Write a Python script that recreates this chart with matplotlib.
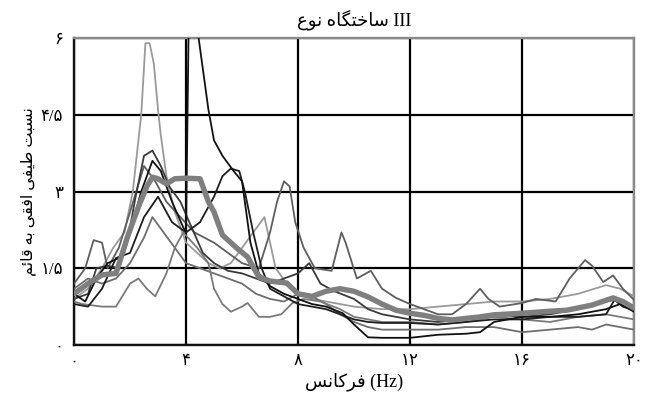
import matplotlib
matplotlib.use("Agg")
import matplotlib.pyplot as plt

# ---------------- data ----------------
x_ticks = [0, 4, 8, 12, 16, 20]
x_tick_labels = ["۰", "۴", "۸", "۱۲", "۱۶", "۲۰"]
y_ticks = [0, 1.5, 3, 4.5, 6]
y_tick_labels = ["۰", "۱/۵", "۳", "۴/۵", "۶"]

title_fa = "ساختگاه نوع"
title_latin = "III"
xlabel_fa = "فرکانس"
xlabel_latin = "(Hz)"
ylabel_fa = "نسبت طیفی افقی به قائم"

f_black = [0, 0.4, 0.8, 1.2, 1.6, 2.0, 2.4, 2.8, 3.1, 3.5, 3.9, 4.0, 4.1, 4.25, 4.4, 4.6, 4.8, 5.0, 5.3,
           5.7, 6.0, 6.3, 6.6, 7.0, 7.5, 8.0, 8.5, 9.0, 9.6, 10.0, 10.5, 11.0, 11.5, 12.0, 13.0, 14.0, 14.5,
           15.0, 16.0, 17.0, 18.0, 19.0, 19.5, 20.0]
v_black = [1.0, 0.85, 1.3, 1.6, 1.7, 2.2, 3.0, 3.6, 3.4, 2.8, 2.3, 2.2, 6.5, 6.5, 6.2, 5.4, 4.6, 4.0, 3.7,
           3.4, 3.2, 2.0, 1.4, 1.15, 1.0, 0.9, 0.8, 0.75, 0.62, 0.4, 0.15, 0.14, 0.14, 0.14, 0.2, 0.22, 0.25,
           0.45, 0.55, 0.55, 0.6, 0.7, 0.8, 0.65]

f_black2 = [0, 0.5, 1.0, 1.5, 2.0, 2.5, 3.0, 3.5, 4.0, 4.5, 5.0, 5.3, 5.6, 5.9, 6.1, 6.4, 6.7, 7.0, 7.5,
            8.0, 8.5, 9.0, 9.5, 10.0, 10.5, 11.0, 12.0, 13.0, 14.0, 15.0, 16.0, 17.0, 18.0, 19.0, 19.3,
            19.6, 20.0]
v_black2 = [0.8, 0.75, 1.1, 1.7, 1.8, 2.5, 2.9, 2.4, 2.2, 2.4, 2.9, 3.3, 3.45, 3.4, 3.0, 2.2, 1.5, 1.1,
            0.95, 0.8, 0.75, 0.7, 0.6, 0.5, 0.45, 0.43, 0.43, 0.4, 0.45, 0.5, 0.5, 0.55, 0.55, 0.6, 0.88,
            0.75, 0.68]

f_light = [0, 0.5, 1.0, 1.4, 1.8, 2.1, 2.4, 2.55, 2.7, 2.85, 3.0, 3.1, 3.3, 3.6, 4.0, 4.4, 4.8, 5.2, 5.6,
           6.0, 6.4, 6.8, 7.2, 7.6, 8.0, 8.5, 9.0, 9.5, 10.0, 11.0, 12.0, 13.0, 14.0, 15.0, 16.0, 17.0,
           18.0, 19.0, 19.5, 20.0]
v_light = [0.9, 1.1, 1.5, 1.9, 2.2, 3.0, 4.5, 5.9, 5.9, 5.5, 4.6, 4.1, 3.3, 2.6, 2.0, 1.8, 1.6, 1.5, 1.6,
           1.9, 2.2, 2.5, 1.5, 1.2, 1.0, 0.9, 0.85, 0.8, 0.75, 0.7, 0.7, 0.75, 0.8, 0.85, 0.85, 0.9,
           1.0, 1.17, 1.1, 0.95]

f_gray1 = [0, 0.4, 0.7, 1.0, 1.2, 1.6, 2.0, 2.5, 2.9, 3.3, 3.8, 4.3, 5.0, 5.5, 6.0, 6.6, 7.0, 7.25, 7.5,
           7.7, 7.9, 8.2, 8.6, 9.2, 9.55, 9.7, 10.1, 10.6, 11.0, 11.5, 12.0, 12.5, 13.0, 13.5, 14.0, 14.5,
           14.8, 15.2, 16.0, 16.5, 17.2, 17.7, 18.25, 18.5, 18.9, 19.25, 19.6, 20.0]
v_gray1 = [1.2, 1.5, 2.05, 2.0, 1.5, 1.9, 2.6, 3.5, 3.2, 2.8, 2.5, 2.2, 2.0, 1.8, 1.6, 1.5, 2.2, 2.8, 3.2,
           3.1, 2.4, 1.9, 1.5, 1.45, 2.2, 2.0, 1.3, 1.45, 1.1, 0.92, 0.8, 0.7, 0.6, 0.6, 0.8, 1.1,
           0.9, 0.75, 0.82, 0.9, 0.85, 1.3, 1.66, 1.55, 1.23, 1.36, 1.1, 0.88]

f_gray2 = [0, 0.3, 1.0, 1.5, 2.0, 2.3, 2.6, 2.9, 3.3, 3.6, 3.9, 4.4, 4.8, 5.0, 5.3, 5.6, 6.0, 6.2, 6.6,
           7.0, 7.4, 7.8, 8.2, 8.8, 9.5, 10.0, 10.5, 11.0, 12.0, 13.0, 14.0, 15.0, 16.0, 17.0, 18.0,
           19.0, 20.0]
v_gray2 = [0.85, 0.8, 0.75, 0.75, 1.2, 1.3, 1.1, 0.95, 1.4, 1.9, 2.2, 1.9, 1.6, 1.1, 0.8, 0.65, 0.75, 0.82,
           0.55, 0.55, 0.6, 0.82, 0.9, 0.85, 0.7, 0.55, 0.5, 0.45, 0.45, 0.4, 0.45, 0.55, 0.5, 0.45, 0.55,
           0.6, 0.5]

f_dark = [0, 0.5, 0.8, 1.2, 1.6, 1.9, 2.2, 2.5, 2.8, 3.1, 3.4, 3.8, 4.2, 4.6, 5.0, 5.5, 6.0, 6.5, 7.0,
          7.5, 8.0, 8.4, 8.8, 9.3, 10.0, 10.5, 11.0, 12.0, 13.0, 14.0, 15.0, 16.0, 17.0, 18.0, 19.0,
          19.5, 20.0]
v_dark = [0.9, 1.0, 1.5, 1.55, 1.5, 2.0, 2.9, 3.7, 3.8, 3.5, 3.1, 2.8, 2.3, 1.8, 1.6, 1.45, 1.4, 1.3, 1.2,
          1.3, 1.4, 1.6, 1.2, 1.05, 0.9, 0.7, 0.6, 0.5, 0.45, 0.5, 0.6, 0.55, 0.6, 0.7, 0.85, 0.9, 0.7]

f_gray3 = [0, 0.5, 1.0, 1.5, 2.0, 2.5, 2.8, 3.2, 3.6, 4.0, 4.5, 5.0, 5.5, 6.0, 6.5, 7.0, 7.5, 8.0, 8.5,
           9.0, 9.5, 10.0, 10.5, 11.0, 12.0, 13.0, 14.0, 15.0, 16.0, 17.0, 18.0, 18.5, 19.0, 19.5, 20.0]
v_gray3 = [1.1, 1.3, 1.2, 1.3, 1.6, 2.1, 2.5, 2.2, 1.9, 1.6, 1.5, 1.4, 1.3, 1.2, 1.0, 0.9, 0.85, 1.0, 0.95,
           0.8, 0.6, 0.45, 0.35, 0.3, 0.3, 0.3, 0.35, 0.35, 0.25, 0.3, 0.35, 0.3, 0.4, 0.35, 0.3]

f_mean = [0, 0.5, 1.0, 1.5, 1.9, 2.3, 2.6, 2.8, 3.0, 3.3, 3.6, 4.0, 4.5, 4.8, 5.0, 5.3, 5.8, 6.2, 6.6, 7.0,
          7.6, 8.0, 8.5, 9.0, 9.5, 10.0, 10.5, 11.0, 11.5, 12.0, 12.5, 13.0, 13.5, 14.0, 14.5, 15.0, 16.0,
          17.0, 17.6, 18.5, 19.25, 19.6, 20.0]
v_mean = [1.0, 1.2, 1.37, 1.4, 2.1, 2.7, 3.1, 3.28, 3.25, 3.15, 3.25, 3.26, 3.25, 2.8, 2.6, 2.15, 1.9, 1.72,
          1.33, 1.25, 1.21, 1.0, 0.95, 1.05, 1.1, 1.05, 0.94, 0.8, 0.68, 0.62, 0.58, 0.52, 0.49, 0.52, 0.55,
          0.59, 0.62, 0.66, 0.68, 0.78, 0.92, 0.85, 0.72]

# ---------------- minimal Persian shaping ----------------
FORMS = {
    "ا": ("\uFE8D", "\uFE8E", None, None), "د": ("\uFEA9", "\uFEAA", None, None),
    "ذ": ("\uFEAB", "\uFEAC", None, None), "ر": ("\uFEAD", "\uFEAE", None, None),
    "ز": ("\uFEAF", "\uFEB0", None, None), "و": ("\uFEED", "\uFEEE", None, None),
    "ب": ("\uFE8F", "\uFE90", "\uFE91", "\uFE92"), "ت": ("\uFE95", "\uFE96", "\uFE97", "\uFE98"),
    "خ": ("\uFEA5", "\uFEA6", "\uFEA7", "\uFEA8"), "س": ("\uFEB1", "\uFEB2", "\uFEB3", "\uFEB4"),
    "ط": ("\uFEC1", "\uFEC2", "\uFEC3", "\uFEC4"), "ع": ("\uFEC9", "\uFECA", "\uFECB", "\uFECC"),
    "ف": ("\uFED1", "\uFED2", "\uFED3", "\uFED4"), "ق": ("\uFED5", "\uFED6", "\uFED7", "\uFED8"),
    "ن": ("\uFEE5", "\uFEE6", "\uFEE7", "\uFEE8"), "ه": ("\uFEE9", "\uFEEA", "\uFEEB", "\uFEEC"),
    "م": ("\uFEE1", "\uFEE2", "\uFEE3", "\uFEE4"), "ئ": ("\uFE89", "\uFE8A", "\uFE8B", "\uFE8C"),
    "ی": ("\uFBFC", "\uFBFD", "\uFBFE", "\uFBFF"), "ک": ("\uFB8E", "\uFB8F", "\uFB90", "\uFB91"),
    "گ": ("\uFB92", "\uFB93", "\uFB94", "\uFB95"),
}


def rtl(text):
    out = []
    n = len(text)
    for i, ch in enumerate(text):
        if ch not in FORMS:
            out.append(ch)
            continue
        prev = text[i - 1] if i > 0 else ""
        nxt = text[i + 1] if i + 1 < n else ""
        joins_prev = prev in FORMS and FORMS[prev][2] is not None
        dual = FORMS[ch][2] is not None
        joins_next = dual and nxt in FORMS
        iso, fin, ini, med = FORMS[ch]
        if joins_prev and joins_next:
            out.append(med)
        elif joins_next:
            out.append(ini)
        elif joins_prev:
            out.append(fin)
        else:
            out.append(iso)
    return "".join(reversed(out))


FAM = ["Liberation Serif", "DejaVu Sans"]

# ---------------- figure ----------------
fig = plt.figure(figsize=(6.47, 4.01), dpi=100)
ax = fig.add_axes([0.1144, 0.1397, 0.8656, 0.7653])

thin = [
    (f_light, v_light, "#9a9a9a"),
    (f_gray3, v_gray3, "#6e6e6e"),
    (f_gray2, v_gray2, "#7a7a7a"),
    (f_gray1, v_gray1, "#5e5e5e"),
    (f_dark, v_dark, "#3a3a3a"),
    (f_black2, v_black2, "#1e1e1e"),
    (f_black, v_black, "#111111"),
]
for fx, vy, col in thin:
    ax.plot(fx, vy, color=col, lw=1.3, zorder=3)
ax.plot(f_mean, v_mean, color="#7f7f7f", lw=3.9, zorder=4, solid_capstyle="round")

ax.set_xlim(0, 20)
ax.set_ylim(0, 6)
ax.set_xticks(x_ticks)
ax.set_xticklabels(x_tick_labels, family=FAM, fontsize=12)
ax.set_yticks(y_ticks)
ax.set_yticklabels(y_tick_labels, family=FAM, fontsize=12)
ax.tick_params(axis="x", length=0, pad=6)
ax.tick_params(axis="y", length=0, pad=8)
ax.grid(True, color="black", lw=1.6, zorder=1)
ax.set_axisbelow(True)
for name, sp in ax.spines.items():
    sp.set_linewidth(1.7)
    sp.set_color("#111111" if name in ("left", "bottom") else "#8a8a8a")

ax.set_title(rtl(title_fa) + " " + title_latin, family=FAM, fontsize=13, pad=9)
ax.set_xlabel(rtl(xlabel_fa) + " " + xlabel_latin, family=FAM, fontsize=13, labelpad=2)
ax.set_ylabel(rtl(ylabel_fa), family=FAM, fontsize=11.5, labelpad=3)

fig.savefig("out.png", dpi=100)
